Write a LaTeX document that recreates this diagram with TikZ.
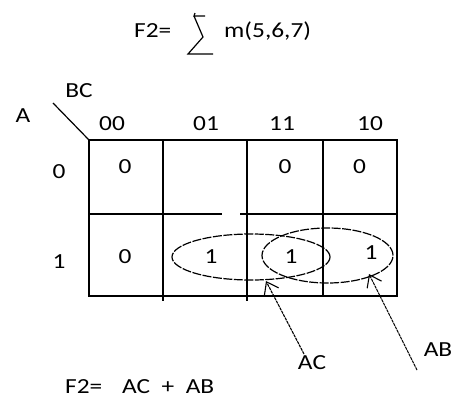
\documentclass[tikz,border=0pt]{standalone}
\usepackage{fontspec}
\setmainfont{Carlito}
\usepackage{graphicx}
\usetikzlibrary{shapes.geometric,arrows.meta}
\newcommand{\kwide}[1]{\scalebox{1.18}[1]{#1}}

\begin{document}
\begin{tikzpicture}[x=1pt, y=-1pt, font=\fontsize{21.5}{26}\selectfont, inner sep=1pt,
  grid/.style={line width=1.8pt},
  loop/.style={draw, ellipse, line width=1.2pt, dash pattern=on 9pt off 1.5pt, inner sep=0pt},
  pointer/.style={line width=1.1pt, dash pattern=on 3pt off 0.8pt, -{Straight Barb[length=11pt,width=16pt]}}]
  \useasboundingbox[fill=white] (0,0) rectangle (457,405);

  % heading with the hand drawn sigma
  \node[anchor=base west] (fhead) at (133,37) {\kwide{F2=}};
  \draw[line width=1.2pt] (195,13) -- (194,16) -- (205,16)
     (194,16) -- (203,37) -- (188,54) -- (213,54);
  \node[anchor=base west] (minterms) at (223,37) {\kwide{m(5,6,7)}};

  % map
  \draw[grid] (89,140) rectangle (397,296);
  \draw[grid] (163,140) -- (163,301);
  \draw[grid] (247,140) -- (247,301);
  \draw[grid] (323,140) -- (323,296);
  \draw[grid] (89,214) -- (222,214) (240,214) -- (397,214);
  \draw[line width=1.2pt] (53,103) -- (89,140);

  \node (bc) at (79,90.5) {\kwide{BC}};
  \node (a) at (23,116) {\kwide{A}};
  \foreach \x/\t in {112/00, 206/01, 282/11, 370/10}{
     \node (col\t) at (\x,124) {\kwide{\t}};
  }
  \foreach \y/\t in {172/0, 262/1}{
     \node (row\t) at (59,\y) {\kwide{\t}};
  }
  \foreach \x/\y/\v/\n in {125/167/0/0, 285/167/0/3, 359.5/167/0/2,
                          125/257/0/4, 211/257/1/5, 291/257/1/7, 371/253/1/6}{
     \node (m\n) at (\x,\y) {\kwide{\v}};
  }

  % groups
  \node[loop, minimum width=158, minimum height=46] (acloop) at (251,257) {};
  \node[loop, minimum width=131, minimum height=55] (abloop) at (327.5,255.5) {};

  \node (ac) at (312,363) {\kwide{AC}};
  \node (ab) at (438,350) {\kwide{AB}};
  \coordinate (actip) at (266,281);
  \coordinate (abtip) at (369,274);
  \draw[pointer] ([shift={(-8,-9)}]ac.center) -- (actip);
  \draw[pointer] ([shift={(-21,20)}]ab.center) -- (abtip);

  \node[anchor=base west] (fres) at (64,393) {\kwide{F2=}};
  \node[anchor=base west] (sum) at (121,393) {\kwide{AC~~+~~AB}};
\end{tikzpicture}
\end{document}
